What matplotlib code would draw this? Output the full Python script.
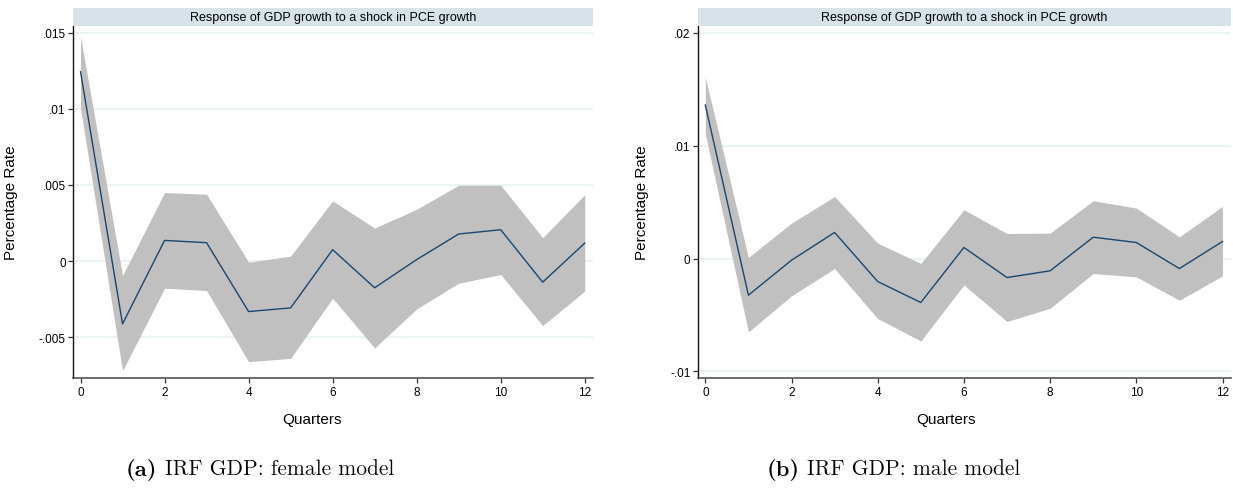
import matplotlib
matplotlib.use("Agg")
import matplotlib.pyplot as plt
from matplotlib.ticker import FixedLocator, FixedFormatter
from matplotlib.transforms import offset_copy

plt.rcParams["font.family"] = ["Liberation Sans", "DejaVu Sans"]

# Horizon in quarters
quarters = list(range(13))

# Impulse responses of GDP growth to a PCE growth shock, with confidence bands
female_irf = [0.01243, -0.00412, 0.00136, 0.00121, -0.00331, -0.00307, 0.00075,
              -0.00175, 0.00010, 0.00178, 0.00206, -0.00138, 0.00118]
female_upper = [0.01474, -0.00094, 0.00450, 0.00439, -0.00007, 0.00033, 0.00395,
                0.00217, 0.00340, 0.00498, 0.00498, 0.00154, 0.00436]
female_lower = [0.01002, -0.00719, -0.00178, -0.00193, -0.00660, -0.00638, -0.00243,
                -0.00570, -0.00314, -0.00145, -0.00088, -0.00423, -0.00197]

male_irf = [0.01361, -0.00325, -0.00015, 0.00231, -0.00204, -0.00390, 0.00098,
            -0.00169, -0.00109, 0.00189, 0.00142, -0.00089, 0.00151]
male_upper = [0.01607, 0.00009, 0.00314, 0.00550, 0.00136, -0.00044, 0.00432,
              0.00222, 0.00225, 0.00512, 0.00447, 0.00192, 0.00462]
male_lower = [0.01104, -0.00651, -0.00331, -0.00089, -0.00533, -0.00731, -0.00234,
              -0.00559, -0.00441, -0.00133, -0.00163, -0.00370, -0.00154]

x_ticks = [0, 2, 4, 6, 8, 10, 12]
female_yticks = [0.015, 0.01, 0.005, 0.0, -0.005]
female_ylabels = [".015", ".01", ".005", "0", "-.005"]
male_yticks = [0.02, 0.01, 0.0, -0.01]
male_ylabels = [".02", ".01", "0", "-.01"]

strip_title = "Response of GDP growth to a shock in PCE growth"
y_title = "Percentage Rate"
x_title = "Quarters"
captions = [("(a)", "IRF GDP: female model"), ("(b)", "IRF GDP: male model")]

BAND = "#c0c0c0"
LINE = "#1a476f"
GRID = "#ecf3f3"
STRIP = "#d8e3e9"

W, H = 1233, 489
fig = plt.figure(figsize=(W / 100, H / 100), dpi=100)


def px_axes(x0, x1, y0, y1):
    return [x0 / W, 1 - y1 / H, (x1 - x0) / W, (y1 - y0) / H]


def panel(x0, x1, irf, lo, hi, yticks, ylabels, ylim, ylab_x, xlab_x):
    ax = fig.add_axes(px_axes(x0, x1, 26.7, 379.3))
    ax.set_xlim(-0.172, 12.19)
    ax.set_ylim(*ylim)
    for v in yticks:
        ax.axhline(v, color=GRID, lw=1.6, zorder=0)
    ax.fill_between(quarters, lo, hi, color=BAND, lw=0, zorder=1)
    ax.plot(quarters, irf, color=LINE, lw=1.0, zorder=2)

    ax.xaxis.set_major_locator(FixedLocator(x_ticks))
    ax.yaxis.set_major_locator(FixedLocator(yticks))
    ax.yaxis.set_major_formatter(FixedFormatter(ylabels))
    ax.tick_params(axis="both", direction="out", length=3.4, width=0.9,
                   labelsize=8.5, pad=2, color="#333333")
    for s in ("top", "right"):
        ax.spines[s].set_visible(False)
    ax.spines["left"].set_color("#111111")
    ax.spines["left"].set_linewidth(1.0)
    ax.spines["bottom"].set_color("#555555")
    ax.spines["bottom"].set_linewidth(1.2)

    ax.set_ylabel(y_title, fontsize=11)
    ax.yaxis.set_label_coords(ylab_x, 0.5)
    ax.set_xlabel(x_title, fontsize=11)
    ax.xaxis.set_label_coords(xlab_x, -0.096)

    strip = fig.add_axes(px_axes(x0, x1, 9.3, 26.7))
    strip.set_facecolor(STRIP)
    strip.set_xticks([])
    strip.set_yticks([])
    for s in strip.spines.values():
        s.set_visible(False)
    strip.text(0.5, 0.5, strip_title, ha="center", va="center", fontsize=9)
    return ax


panel(73.3, 592.7, female_irf, female_lower, female_upper,
      female_yticks, female_ylabels, (-0.00769, 0.01545), -0.1065, 0.46)
panel(697.9, 1230.7, male_irf, male_lower, male_upper,
      male_yticks, male_ylabels, (-0.01062, 0.02064), -0.0927, 0.466)

# Sub-figure captions: bold label followed by regular text
serif = ["Latin Modern Roman", "CMU Serif", "DejaVu Serif"]
cap_size = 15.5
renderer = fig.canvas.get_renderer()
for (tag, body), x_start in zip(captions, (126, 767)):
    t = fig.text(x_start / W, 1 - 476 / H, tag, fontsize=cap_size, family=serif,
                 fontweight="bold", ha="left", va="baseline")
    bb = t.get_window_extent(renderer=renderer)
    gap = cap_size * 0.33 * 100 / 72
    fig.text((bb.x1 + gap) / W, 1 - 476 / H, body, fontsize=cap_size,
             family=serif, ha="left", va="baseline")

fig.savefig("out.png", dpi=100)
